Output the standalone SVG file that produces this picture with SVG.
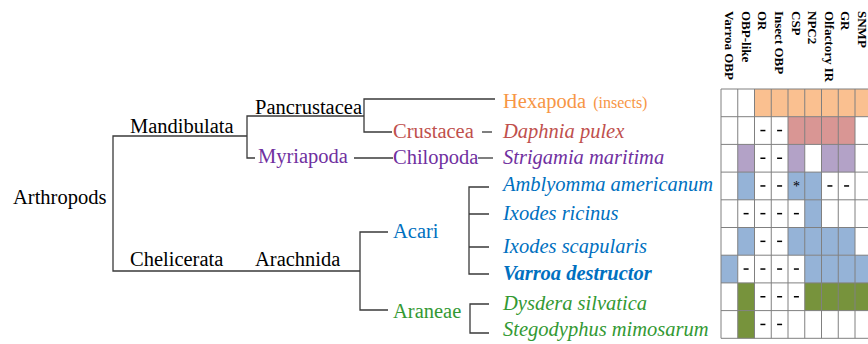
<svg xmlns="http://www.w3.org/2000/svg" xmlns:xlink="http://www.w3.org/1999/xlink" width="868" height="344" viewBox="0 0 868 344">
<style>
text{font-family:"Liberation Serif","Times New Roman",serif;font-size:20.5px}
.it{font-style:italic}
.hd{font-size:13px;font-weight:bold;fill:#000}
.br{fill:none;stroke:#3a3a3a;stroke-width:1.3}
.g{stroke:#808080;stroke-width:1;fill:none}
.or{fill:#FAC090}.rd{fill:#D99694}.pu{fill:#B3A2C7}.bl{fill:#95B3D7}.gr{fill:#77933C}
.cO{fill:#F79646}.cR{fill:#C0504D}.cP{fill:#7030A0}.cB{fill:#0070C0}.cG{fill:#339933}.cK{fill:#000}
</style>
<defs>
<line id="d" x1="-2.5" y1="0" x2="2.5" y2="0" stroke="#000" stroke-width="1.5"/>
</defs>
<rect width="868" height="344" fill="#fff"/>

<g id="connectors">
<path class="br" d="M247,136 H113 V271 H360"/>
<path class="br" d="M364,116 H247 V158 H255"/>
<path class="br" d="M495,99 H364 V132 H392"/>
<path class="br" d="M482,132 H492"/>
<path class="br" d="M354,158 H393"/>
<path class="br" d="M478,158 H493"/>
<path class="br" d="M388,232 H360 V310 H388"/>
<path class="br" d="M489,187 H469 V274 H489 M469,214 H489 M469,247 H489"/>
<path class="br" d="M489,304 H470 V333 H489"/>
</g>

<g id="n-arthropods"><text x="13" y="204" class="cK">Arthropods</text></g>
<g id="n-mandibulata"><text x="130" y="133" class="cK">Mandibulata</text></g>
<g id="n-pancrustacea"><text x="255" y="114" class="cK">Pancrustacea</text></g>
<g id="n-myriapoda"><text x="258" y="163" class="cP">Myriapoda</text></g>
<g id="n-chelicerata"><text x="130" y="266" class="cK">Chelicerata</text></g>
<g id="n-arachnida"><text x="255" y="266" class="cK">Arachnida</text></g>
<g id="n-hexapoda"><text x="503" y="108" class="cO">Hexapoda <tspan style="font-size:16px" dx="2">(insects)</tspan></text></g>
<g id="n-crustacea"><text x="393" y="138" class="cR">Crustacea</text></g>
<g id="n-daphnia"><text x="503" y="138" class="cR it">Daphnia pulex</text></g>
<g id="n-chilopoda"><text x="393" y="164" class="cP">Chilopoda</text></g>
<g id="n-strigamia"><text x="503" y="164" class="cP it">Strigamia maritima</text></g>
<g id="n-acari"><text x="393" y="238" class="cB">Acari</text></g>
<g id="n-amblyomma"><text x="503" y="191" class="cB it">Amblyomma americanum</text></g>
<g id="n-ricinus"><text x="503" y="220" class="cB it">Ixodes ricinus</text></g>
<g id="n-scapularis"><text x="503" y="253" class="cB it">Ixodes scapularis</text></g>
<g id="n-varroa"><text x="503" y="280" class="cB it" font-weight="bold">Varroa destructor</text></g>
<g id="n-araneae"><text x="393" y="318" class="cG">Araneae</text></g>
<g id="n-dysdera"><text x="503" y="310" class="cG it">Dysdera silvatica</text></g>
<g id="n-stegodyphus"><text x="503" y="336" class="cG it">Stegodyphus mimosarum</text></g>

<g id="table">
<g id="headers">
<text class="hd" transform="translate(725,11) rotate(90)">Varroa OBP</text>
<text class="hd" transform="translate(741.75,11) rotate(90)">OBP-like</text>
<text class="hd" transform="translate(758,11) rotate(90)">OR</text>
<text class="hd" transform="translate(774.5,11) rotate(90)">Insect OBP</text>
<text class="hd" transform="translate(791.5,11) rotate(90)">CSP</text>
<text class="hd" transform="translate(808,11) rotate(90)">NPC2</text>
<text class="hd" transform="translate(824.5,11) rotate(90)">Olfactory IR</text>
<text class="hd" transform="translate(841,11) rotate(90)">GR</text>
<text class="hd" transform="translate(857.5,11) rotate(90)">SNMP</text>
</g>
<g id="fills">
<rect class="or" x="754.5" y="89" width="117.25" height="27.7"/>
<rect class="rd" x="788" y="116.7" width="67" height="27.7"/>
<rect class="pu" x="737.75" y="144.4" width="16.75" height="27.7"/>
<rect class="pu" x="788" y="144.4" width="16.75" height="27.7"/>
<rect class="pu" x="821.5" y="144.4" width="33.5" height="27.7"/>
<rect class="bl" x="737.75" y="172.1" width="16.75" height="27.7"/>
<rect class="bl" x="788" y="172.1" width="33.5" height="27.7"/>
<rect class="bl" x="804.75" y="199.8" width="16.75" height="27.7"/>
<rect class="bl" x="737.75" y="227.5" width="16.75" height="27.7"/>
<rect class="bl" x="788" y="227.5" width="67" height="27.7"/>
<rect class="bl" x="721" y="255.2" width="16.75" height="27.7"/>
<rect class="bl" x="804.75" y="255.2" width="67" height="27.7"/>
<rect class="gr" x="737.75" y="282.9" width="16.75" height="27.7"/>
<rect class="gr" x="804.75" y="282.9" width="67" height="27.7"/>
<rect class="gr" x="737.75" y="310.6" width="16.75" height="27.7"/>
</g>
<g id="grid">
<path class="g" d="M721,89 V338.3 M737.75,89 V338.3 M754.5,89 V338.3 M771.25,89 V338.3 M788,89 V338.3 M804.75,89 V338.3 M821.5,89 V338.3 M838.25,89 V338.3 M855,89 V338.3"/>
<path class="g" d="M721,89 H868 M721,116.7 H868 M721,144.4 H868 M721,172.1 H868 M721,199.8 H868 M721,227.5 H868 M721,255.2 H868 M721,282.9 H868 M721,310.6 H868 M721,338.3 H868"/>
</g>
<g id="marks">
<use href="#d" x="762.9" y="130.55"/><use href="#d" x="779.6" y="130.55"/>
<use href="#d" x="762.9" y="158.25"/><use href="#d" x="779.6" y="158.25"/>
<use href="#d" x="762.9" y="185.95"/><use href="#d" x="779.6" y="185.95"/><use href="#d" x="829.9" y="185.95"/><use href="#d" x="846.6" y="185.95"/>
<use href="#d" x="746.1" y="213.65"/><use href="#d" x="762.9" y="213.65"/><use href="#d" x="779.6" y="213.65"/><use href="#d" x="796.4" y="213.65"/>
<use href="#d" x="762.9" y="241.35"/><use href="#d" x="779.6" y="241.35"/>
<use href="#d" x="746.1" y="269.05"/><use href="#d" x="762.9" y="269.05"/><use href="#d" x="779.6" y="269.05"/><use href="#d" x="796.4" y="269.05"/>
<use href="#d" x="762.9" y="296.75"/><use href="#d" x="779.6" y="296.75"/><use href="#d" x="796.4" y="296.75"/>
<use href="#d" x="762.9" y="324.45"/><use href="#d" x="779.6" y="324.45"/>
<text x="796.4" y="191" text-anchor="middle" style="font-size:14px">*</text>
</g>
</g>
</svg>
